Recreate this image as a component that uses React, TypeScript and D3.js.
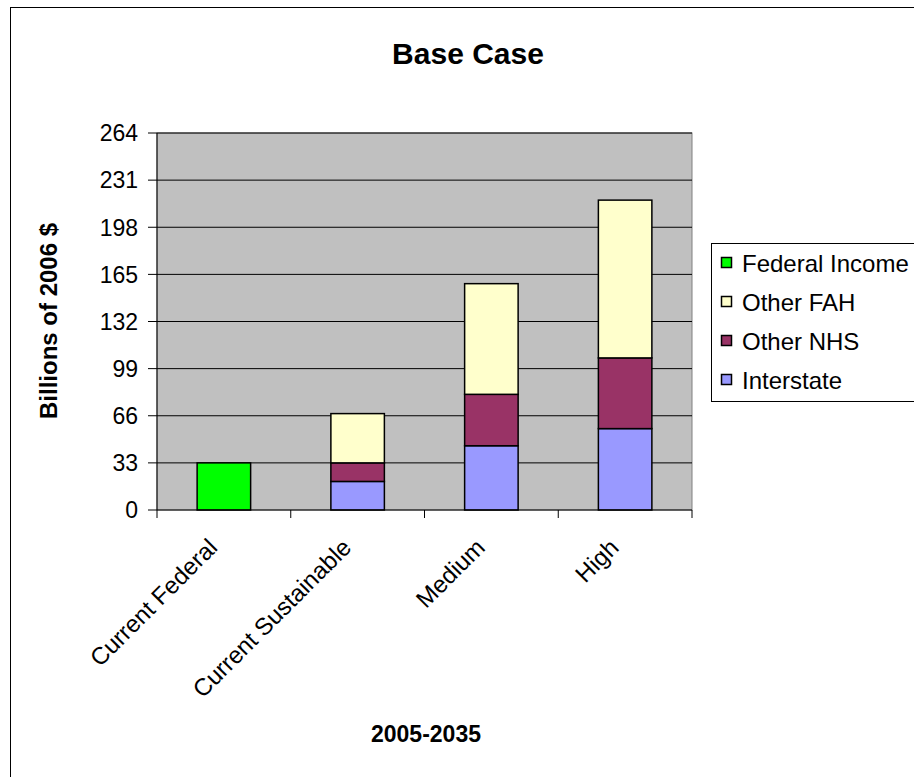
import React from "react";
import * as d3 from "d3";

const categories = ["Current Federal", "Current Sustainable", "Medium", "High"];
const federalIncome = [33, 0, 0, 0];
const interstate = [0, 20, 45, 57];
const otherNHS = [0, 13, 36, 49.5];
const otherFAH = [0, 34.5, 77.5, 110.5];
const yTicks = [0, 33, 66, 99, 132, 165, 198, 231, 264];
const seriesNames = ["Interstate", "Other NHS", "Other FAH", "Federal Income"];
const seriesColors = ["#9999FF", "#993366", "#FFFFCC", "#00FF00"];
const legendOrder = ["Federal Income", "Other FAH", "Other NHS", "Interstate"];

const FONT = "Liberation Sans, Arial, sans-serif";

export default function App() {
  const left = 157, right = 692, top = 133, bottom = 510;
  const x = d3.scaleBand<string>().domain(categories).range([left, right]);
  const y = d3.scaleLinear().domain([0, 264]).range([bottom, top]);
  const rows = categories.map((c, i) => ({
    cat: c,
    "Interstate": interstate[i],
    "Other NHS": otherNHS[i],
    "Other FAH": otherFAH[i],
    "Federal Income": federalIncome[i],
  }));
  const stacked = d3.stack<any>().keys(seriesNames)(rows);
  const bw = x.bandwidth() * 0.4;
  const colorOf = (n: string) => seriesColors[seriesNames.indexOf(n)];
  const boundaries = [...categories.map((c) => x(c) as number), right];

  return (
    <svg width={914} height={777} style={{ position: "absolute", left: 0, top: 0 }} fontFamily={FONT}>
      <rect x={0} y={0} width={914} height={777} fill="#fff" />
      <rect x={10.5} y={7.5} width={920} height={800} fill="none" stroke="#000" strokeWidth={1} />
      <text x={468} y={64} textAnchor="middle" fontWeight="bold" fontSize={30}>Base Case</text>

      <rect x={left} y={top} width={right - left} height={bottom - top} fill="#C0C0C0" stroke="#808080" strokeWidth={1} />
      {yTicks.filter((t) => t > 0).map((t) => (
        <line key={"g" + t} x1={left} x2={right} y1={y(t)} y2={y(t)} stroke="#000" strokeWidth={1} />
      ))}
      {stacked.map((s) =>
        s.map((d, i) =>
          d[1] - d[0] > 0 ? (
            <rect key={s.key + i} x={(x(categories[i]) as number) + (x.bandwidth() - bw) / 2} y={y(d[1])}
              width={bw} height={y(d[0]) - y(d[1])} fill={colorOf(s.key)} stroke="#000" strokeWidth={1.5} />
          ) : null
        )
      )}
      <line x1={left} x2={left} y1={top} y2={bottom} stroke="#000" strokeWidth={1} />
      <line x1={left} x2={right} y1={bottom} y2={bottom} stroke="#000" strokeWidth={1} />
      {yTicks.map((t) => (
        <g key={"t" + t}>
          <line x1={left - 9} x2={left} y1={y(t)} y2={y(t)} stroke="#000" />
          <text x={138} y={y(t)} dy="0.36em" textAnchor="end" fontSize={23}>{t}</text>
        </g>
      ))}
      {boundaries.map((b, i) => (
        <line key={"xt" + i} x1={b} x2={b} y1={bottom} y2={bottom + 8} stroke="#000" />
      ))}
      {categories.map((c) => {
        const cx = (x(c) as number) + x.bandwidth() / 2 - 5;
        const cy = bottom + 39;
        return (
          <text key={c} x={cx} y={cy} textAnchor="end" fontSize={24} transform={`rotate(-45 ${cx} ${cy})`}>{c}</text>
        );
      })}
      <text x={426} y={742} textAnchor="middle" fontWeight="bold" fontSize={23}>2005-2035</text>
      <text transform={`translate(57 321) rotate(-90)`} textAnchor="middle" fontWeight="bold" fontSize={24}>Billions of 2006 $</text>

      <rect x={711.5} y={243.5} width={220} height={158} fill="#fff" stroke="#000" strokeWidth={1} />
      {legendOrder.map((n, i) => {
        const cy = 263 + i * 39;
        return (
          <g key={n}>
            <rect x={721.5} y={cy - 5.5} width={10} height={10} fill={colorOf(n)} stroke="#000" strokeWidth={1.5} />
            <text x={742} y={cy} dy="0.36em" fontSize={24}>{n}</text>
          </g>
        );
      })}
    </svg>
  );
}
